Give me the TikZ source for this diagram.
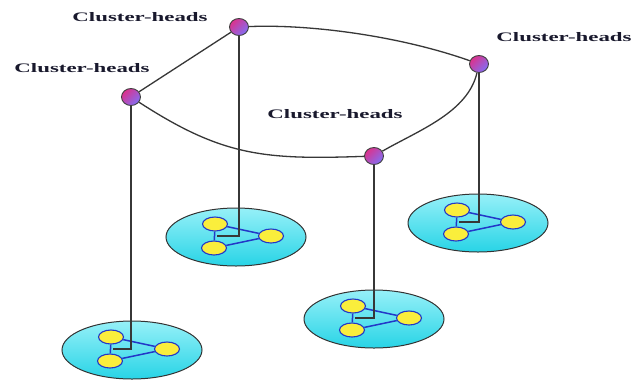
\documentclass[tikz,border=0pt]{standalone}
\usepackage{fontspec}
\setmainfont{Liberation Serif}
\usetikzlibrary{shapes.geometric}
\definecolor{linegray}{RGB}{55,55,55}
\definecolor{txtcol}{RGB}{25,25,45}
\definecolor{chpink}{RGB}{220,50,140}
\definecolor{chpurple}{RGB}{130,110,245}
\definecolor{cyanlight}{RGB}{150,240,248}
\definecolor{cyandark}{RGB}{40,212,230}
\definecolor{memfill}{RGB}{250,238,60}
\definecolor{memblue}{RGB}{35,55,200}
\begin{document}
\begin{tikzpicture}[x=1pt,y=-1pt,
  head/.style={ellipse, draw=black!75, line width=0.9pt, minimum width=19pt, minimum height=17pt, inner sep=0pt,
    top color=chpink, bottom color=chpurple, shading angle=45},
  lbl/.style={font=\fontsize{13}{15}\selectfont\bfseries, text=txtcol, inner sep=0pt},
  link/.style={draw=linegray, line width=1.3pt},
  cluster/.style={ellipse, draw=black!80, line width=1pt, minimum width=140pt, minimum height=58pt,
    inner sep=0pt, top color=cyanlight, bottom color=cyandark},
  member/.style={ellipse, draw=memblue, line width=1.1pt, fill=memfill, minimum width=25pt,
    minimum height=14pt, inner sep=0pt},
  memlink/.style={draw=memblue, line width=1.5pt},
  vline/.style={draw=linegray, line width=1.5pt}]
\useasboundingbox (0,0) rectangle (642,381);
\fill[white] (0,0) rectangle (642,381);

% labels
\node[lbl] (l1) at (140,17) {\scalebox{1.76}[1]{Cluster-heads}};
\node[lbl] (l2) at (82,68) {\scalebox{1.76}[1]{Cluster-heads}};
\node[lbl] (l3) at (564,37) {\scalebox{1.76}[1]{Cluster-heads}};
\node[lbl] (l4) at (335,114) {\scalebox{1.76}[1]{Cluster-heads}};

% cluster heads
\node[head] (h1) at (239,27) {};
\node[head] (h2) at (131,97) {};
\node[head] (h3) at (479,64) {};
\node[head] (h4) at (374,156) {};

% links between heads
\draw[link] (h2) -- (h1);
\draw[link] (h1) .. controls (310,24) and (400,36) .. (h3);
\draw[link] (h3) to[out=-103,in=30,looseness=0.85] (h4);
\draw[link] (h2) to[out=-33,in=182,looseness=1.1] (h4);

% clusters
\foreach \n/\cx/\cy/\h in {1/236/237/h1, 2/132/350/h2, 3/374/319/h4, 4/478/223/h3} {
  \node[cluster] (c\n) at (\cx,\cy) {};
  \node[member] (ca\n) at (\cx-21,\cy-13) {};
  \node[member] (cb\n) at (\cx-22,\cy+11) {};
  \node[member] (cc\n) at (\cx+35,\cy-1) {};
  \coordinate (k\n) at (\cx-19,\cy-1);
  \draw[memlink] (ca\n) -- (cc\n);
  \draw[memlink] (cb\n) -- (cc\n);
  \draw[memlink] (ca\n) -- (cb\n);
  \draw[vline] (\h) -- (\h |- k\n) -- (k\n);
}
\end{tikzpicture}
\end{document}
